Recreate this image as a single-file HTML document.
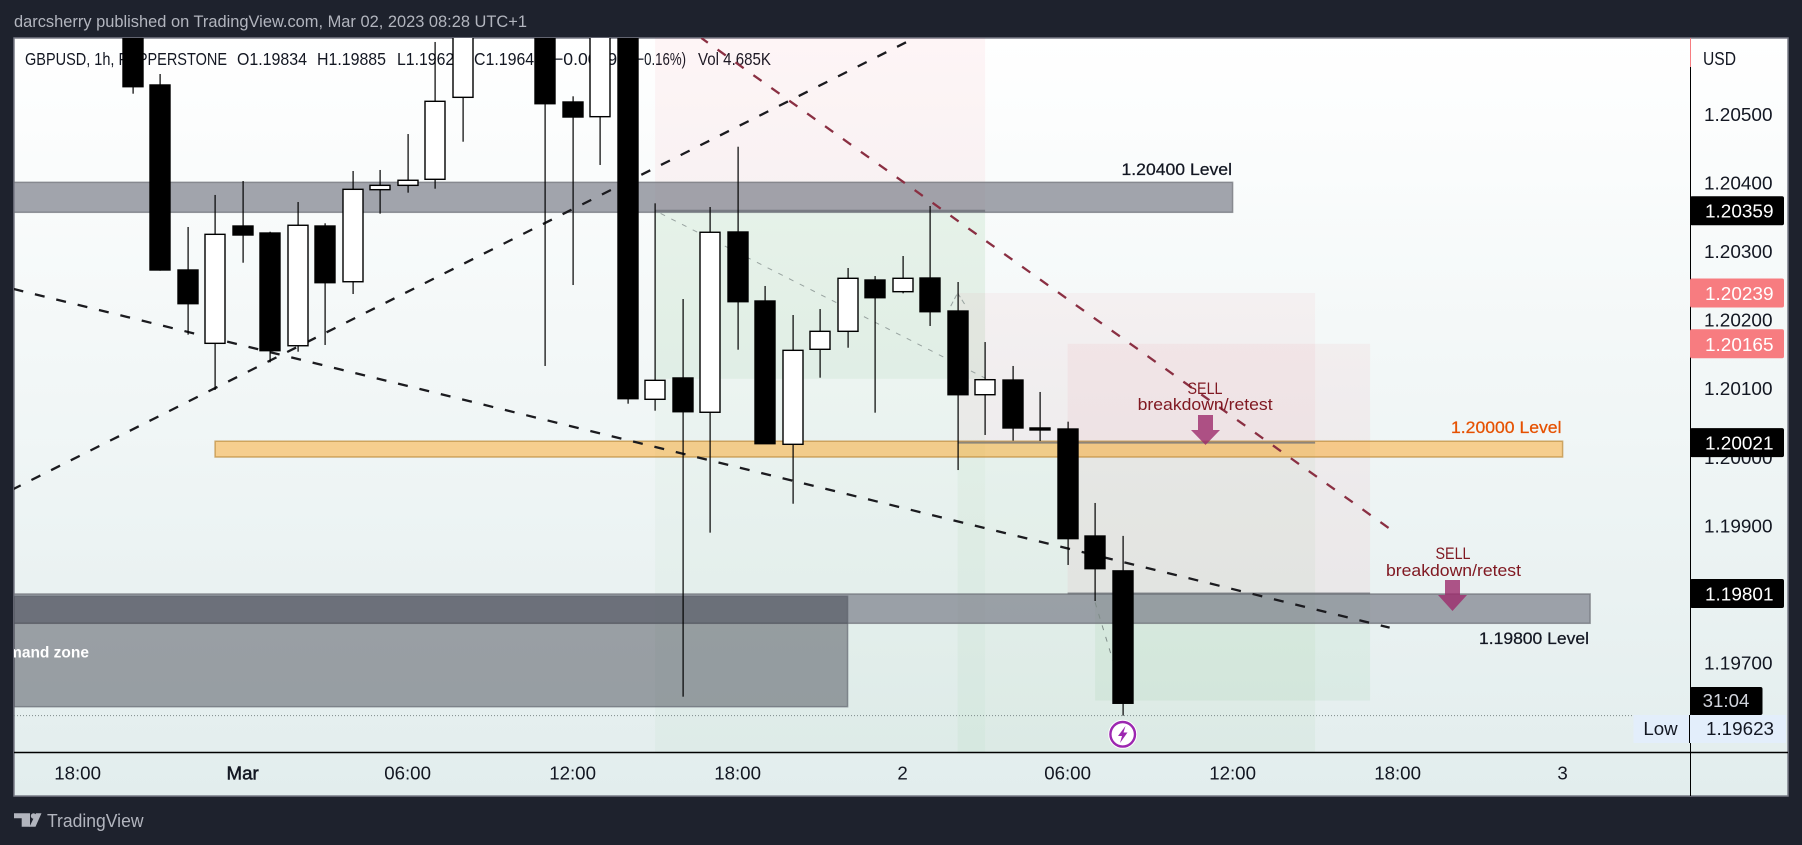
<!DOCTYPE html>
<html lang="en">
<head>
<meta charset="utf-8">
<title>GBPUSD 1h chart</title>
<style>
html,body{margin:0;padding:0;background:#1e222d;width:1802px;height:845px;overflow:hidden}
svg{display:block;font-family:"Liberation Sans",sans-serif}
</style>
</head>
<body>
<svg id="chart" width="1802" height="845" viewBox="0 0 1802 845" xmlns="http://www.w3.org/2000/svg">
  <defs>
    <linearGradient id="bgGrad" x1="0" y1="0" x2="0" y2="1">
      <stop offset="0" stop-color="#ffffff"/>
      <stop offset="1" stop-color="#e2eded"/>
    </linearGradient>
    <clipPath id="plotClip"><rect x="14" y="38" width="1676" height="714"/></clipPath>
  </defs>
  <rect x="0" y="0" width="1802" height="845" fill="#1e222d"/>
  <text x="14" y="27" font-size="17" fill="#b2b5be" textLength="513" lengthAdjust="spacingAndGlyphs">darcsherry published on TradingView.com, Mar 02, 2023 08:28 UTC+1</text>
  <rect x="14" y="38" width="1774" height="758" fill="url(#bgGrad)" stroke="#787b86" stroke-width="1.5"/>
  <g font-size="17.5" fill="#131722">
    <text x="25" y="65" textLength="202" lengthAdjust="spacingAndGlyphs">GBPUSD, 1h, PEPPERSTONE</text>
    <text x="237" y="65" textLength="70" lengthAdjust="spacingAndGlyphs">O1.19834</text>
    <text x="317" y="65" textLength="69" lengthAdjust="spacingAndGlyphs">H1.19885</text>
    <text x="397" y="65" textLength="66" lengthAdjust="spacingAndGlyphs">L1.19623</text>
    <text x="474" y="65" textLength="69" lengthAdjust="spacingAndGlyphs">C1.19641</text>
    <text x="553" y="65" textLength="74" lengthAdjust="spacingAndGlyphs">−0.00193</text>
    <text x="632" y="65" textLength="54" lengthAdjust="spacingAndGlyphs">(−0.16%)</text>
    <text x="698" y="65" textLength="73" lengthAdjust="spacingAndGlyphs">Vol 4.685K</text>
  </g>
  <g id="zones" clip-path="url(#plotClip)"></g>
  <line id="lowLine" x1="14" x2="1634" stroke="#7d8a8a" stroke-width="1" stroke-dasharray="1 2"/>
  <g id="lines" clip-path="url(#plotClip)"></g>
  <g id="candles" clip-path="url(#plotClip)"></g>
  <g>
    <text x="1121.5" y="175" font-size="17" stroke="#131722" stroke-width=".25" fill="#131722" textLength="110.5" lengthAdjust="spacingAndGlyphs">1.20400 Level</text>
    <text x="1451" y="433" font-size="17" stroke="#e65100" stroke-width=".25" fill="#e65100" textLength="110.5" lengthAdjust="spacingAndGlyphs">1.20000 Level</text>
    <text x="1479" y="644" font-size="17" stroke="#131722" stroke-width=".25" fill="#131722" textLength="110" lengthAdjust="spacingAndGlyphs">1.19800 Level</text>
    <text x="89" y="657.5" font-size="15.5" font-weight="bold" fill="#ffffff" text-anchor="end" clip-path="url(#plotClip)">demand zone</text>
    <text x="1205" y="394" font-size="17" fill="#801922" text-anchor="middle" textLength="35" lengthAdjust="spacingAndGlyphs">SELL</text>
    <text x="1137.6" y="410" font-size="17" fill="#801922" textLength="135" lengthAdjust="spacingAndGlyphs">breakdown/retest</text>
    <polygon points="1198,415 1213,415 1213,430 1220,430 1205.5,445 1191,430 1198,430" fill="#9c2a6b" fill-opacity=".8"/>
    <text x="1453" y="559" font-size="17" fill="#801922" text-anchor="middle" textLength="35" lengthAdjust="spacingAndGlyphs">SELL</text>
    <text x="1386" y="576" font-size="17" fill="#801922" textLength="135" lengthAdjust="spacingAndGlyphs">breakdown/retest</text>
    <polygon points="1445,580 1460,580 1460,595 1467,595 1452.5,611 1438,595 1445,595" fill="#9c2a6b" fill-opacity=".8"/>
    <g>
      <circle cx="1122.7" cy="734.3" r="14.5" fill="#ffffff"/>
      <circle cx="1122.7" cy="734.3" r="12.3" fill="#ffffff" stroke="#9c27b0" stroke-width="2.4"/>
      <polygon points="1125.5,726 1118,736 1122,736 1120,743 1127.5,732.5 1123.5,732.5" fill="#9c27b0"/>
    </g>
  </g>
  <g>
    <line x1="14" y1="752.5" x2="1788" y2="752.5" stroke="#000" stroke-width="1.5"/>
    <line x1="1690.5" y1="67" x2="1690.5" y2="796" stroke="#000" stroke-width="1"/>
    <line x1="1690.5" y1="38" x2="1690.5" y2="67" stroke="#f77c80" stroke-width="1"/>
    <text x="1703" y="65" font-size="18" fill="#131722" textLength="33" lengthAdjust="spacingAndGlyphs">USD</text>
  </g>
  <g id="yTicks" font-size="18.7" fill="#131722"></g>
  <g id="xTicks" font-size="18.7" fill="#131722" text-anchor="middle"></g>
  <g id="priceTags" font-size="18.7"></g>
  <g>
    <rect x="1690" y="687" width="72.5" height="28" rx="2" fill="#000"/>
    <text x="1726" y="707" font-size="18.7" fill="#d1d4dc" text-anchor="middle">31:04</text>
  </g>
  <g>
    <rect x="1633.5" y="715" width="152.5" height="28" fill="#e3eefb"/>
    <line x1="1689.5" y1="715" x2="1689.5" y2="743" stroke="#000"/>
    <text x="1660.5" y="735" font-size="18.7" fill="#131722" text-anchor="middle">Low</text>
    <text x="1706" y="735" font-size="18.7" fill="#131722" textLength="68" lengthAdjust="spacingAndGlyphs">1.19623</text>
  </g>
  <g fill="#b2b5be">
    <polygon points="14,813.3 30,813.3 30,826.8 21.7,826.8 21.7,818.3 14,818.3"/>
    <circle cx="33.5" cy="816" r="2.7"/>
    <polygon points="36,813.3 41.5,813.3 35.5,826.8 29.5,826.8"/>
    <text x="47" y="827" font-size="18.5" textLength="96.5" lengthAdjust="spacingAndGlyphs">TradingView</text>
  </g>
</svg>
<script>
// ---- Candle data (hours since Mar 1 00:00) ----
const hours  = [-4,-3,-2,-1,0,1,2,3,4,5,6,7,8,9,10,11,12,13,14,15,16,17,18,19,20,21,22,23,24,25,26,27,28,29,30,31,32];
const opens  = [1.2066,1.205423,1.202726,1.201657,1.203367,1.203265,1.201622,1.203367,1.202555,1.203897,1.20396,1.204048,1.205243,1.2068,1.2072,1.2075,1.205175,1.204961,1.2068,1.200841,1.201152,1.200652,1.20328,1.202274,1.200185,1.20157,1.201832,1.20258,1.20241,1.202609,1.202128,1.200908,1.201122,1.200423,1.200408,1.198848,1.19834];
const highs  = [1.2068,1.205583,1.203353,1.20382,1.204023,1.203284,1.203717,1.203407,1.204169,1.204184,1.204708,1.20605,1.2069,1.2078,1.2079,1.2077,1.205258,1.2069,1.2069,1.203698,1.202303,1.203644,1.204523,1.202493,1.20207,1.202157,1.202755,1.202638,1.20293,1.203659,1.202551,1.201676,1.201327,1.200948,1.200515,1.19933,1.19885];
const lows   = [1.205296,1.202716,1.201783,1.200977,1.202832,1.20138,1.201535,1.201633,1.202376,1.203547,1.203853,1.203911,1.204596,1.2067,1.2069,1.201327,1.202507,1.204257,1.200777,1.200675,1.196506,1.198897,1.201564,1.200194,1.199319,1.201156,1.201593,1.200646,1.202386,1.20191,1.19981,1.200321,1.200238,1.200233,1.198426,1.197901,1.19623];
const closes = [1.205398,1.202726,1.202235,1.203246,1.203236,1.20155,1.203378,1.202541,1.203902,1.20396,1.204034,1.205185,1.2068,1.2072,1.2075,1.20515,1.204956,1.2068,1.20085,1.201118,1.20066,1.203276,1.202264,1.200194,1.201555,1.201832,1.202605,1.202322,1.202605,1.202118,1.200908,1.201127,1.200423,1.200394,1.19881,1.198372,1.19641];

// ---- Axis data ----
const priceTicks = [1.205,1.204,1.203,1.202,1.201,1.2,1.199,1.198,1.197];
const priceTickLabels = ['1.20500','1.20400','1.20300','1.20200','1.20100','1.20000','1.19900','1.19800','1.19700'];
const timeTickHours = [-6,0,6,12,18,24,30,36,42,48];
const timeTickLabels = ['18:00','Mar','06:00','12:00','18:00','2','06:00','12:00','18:00','3'];

// ---- Price tags ----
const tagPrices = [1.20359,1.20239,1.20165,1.20021,1.19801];
const tagLabels = ['1.20359','1.20239','1.20165','1.20021','1.19801'];
const tagKinds  = ['dark','stop','stop','dark','dark'];
const lowPrice = 1.19623;

// ---- Horizontal zones: [startHour, endHour, topPrice, bottomPrice] ----
const level12040 = [-12,36,1.204004,1.203567];
const level12000 = [-1,48,1.20023,1.2];
const level11980 = [-12,49,1.198003,1.197576];
const demandZone = [-12,22,1.19797,1.19636];

// ---- Position tools: [startHour, endHour, topPrice, bottomPrice] ----
const toolAStop = [15,27,1.2072,1.20359];
const toolATarget = [15,27,1.20359,1.1945];
const toolATargetInner = [15,27,1.20359,1.20114];
const toolBStop = [26,39,1.20239,1.20021];
const toolBTarget = [26,39,1.20021,1.1945];
const toolCStop = [30,41,1.20165,1.19801];
const toolCTarget = [31,41,1.19801,1.19645];

// ---- Trendlines: [hour1, price1, hour2, price2] ----
const risingLine = [-8.33,1.199534,24.44,1.206108];
const fallingLine = [-8.33,1.202449,41.71,1.197512];
const redLine = [16.68,1.206108,41.69,1.198961];
const tradePathA = [15.2,1.20355,27,1.20115];
const tradePathB1 = [25.75,1.2022,26,1.20239];
const tradePathB2 = [26,1.20239,26.3,1.2022];
const tradePathC = [31,1.19788,31.65,1.19703];

const xOf = h => 242.6 + 27.5 * h;
const yOf = p => 114 + (1.205 - p) * 68600;
const NS = 'http://www.w3.org/2000/svg';
function make(tag, parent, attrs, txt) {
  const el = document.createElementNS(NS, tag);
  for (const k in attrs) el.setAttribute(k, attrs[k]);
  if (txt !== undefined) el.textContent = txt;
  parent.appendChild(el);
  return el;
}
const zones = document.getElementById('zones');
const linesG = document.getElementById('lines');
const candlesG = document.getElementById('candles');
const yTicks = document.getElementById('yTicks');
const xTicks = document.getElementById('xTicks');
const tagsG = document.getElementById('priceTags');

function zoneRect(z, fill, stroke) {
  const attrs = {x: xOf(z[0]), y: yOf(z[2]), width: xOf(z[1]) - xOf(z[0]), height: yOf(z[3]) - yOf(z[2]), fill: fill};
  if (stroke) { attrs.stroke = stroke; attrs['stroke-width'] = 1.5; }
  return make('rect', zones, attrs);
}
function entryLine(z) {
  return make('line', zones, {x1: xOf(z[0]), x2: xOf(z[1]), y1: yOf(z[3]), y2: yOf(z[3]), stroke: '#6b6f76', 'stroke-width': 2, 'stroke-opacity': .75});
}
function trend(t, stroke, width, dash, offset) {
  return make('line', linesG, {x1: xOf(t[0]), y1: yOf(t[1]), x2: xOf(t[2]), y2: yOf(t[3]), stroke: stroke, 'stroke-width': width, 'stroke-dasharray': dash, 'stroke-dashoffset': offset || 0});
}

let el;
el = zoneRect(toolATarget, 'rgba(76,175,80,.035)');


el = zoneRect(toolATargetInner, 'rgba(76,175,80,.07)');


el = zoneRect(toolAStop, 'rgba(242,54,69,.05)');


el = zoneRect(toolBTarget, 'rgba(76,175,80,.05)');


el = zoneRect(toolBStop, 'rgba(242,54,69,.045)');


el = zoneRect(toolCTarget, 'rgba(76,175,80,.07)');


el = zoneRect(toolCStop, 'rgba(242,54,69,.05)');


el = zoneRect(level12040, 'rgba(120,123,134,.68)', 'rgba(110,113,120,.7)');


el = zoneRect(level12000, 'rgba(255,152,0,.42)', 'rgba(190,140,60,.7)');


el = zoneRect(level11980, 'rgba(120,123,134,.68)', 'rgba(110,113,120,.7)');


el = zoneRect(demandZone, 'rgba(42,46,57,.42)', 'rgba(90,95,105,.6)');


el = entryLine(toolAStop);


el = entryLine(toolBStop);


el = entryLine(toolCStop);



const lowLine = document.getElementById('lowLine');
lowLine.setAttribute('y1', yOf(lowPrice));
lowLine.setAttribute('y2', yOf(lowPrice));

el = trend(tradePathA, '#98a3a0', 1, '5 7');


el = trend(tradePathB1, '#98a3a0', 1, '5 3');


el = trend(tradePathB2, '#98a3a0', 1, '5 3');


el = trend(tradePathC, '#7f8c88', 1, '5 7');


el = trend(risingLine, '#1b1b1f', 2.3, '10 12', 2);


el = trend(fallingLine, '#1b1b1f', 2.3, '10 12', 0);


el = trend(redLine, '#8a2f42', 2.3, '10 12', 2);



hours.forEach((h, i) => {
  const cx = Math.round(xOf(h));
  const top = yOf(Math.max(opens[i], closes[i]));
  const bot = yOf(Math.min(opens[i], closes[i]));
  const up = closes[i] >= opens[i];
  const wick = make('rect', candlesG, {x: cx - .5, y: yOf(highs[i]), width: 1.2, height: yOf(lows[i]) - yOf(highs[i]), fill: '#000'});
  
  
  const body = make('rect', candlesG, {x: cx - 10, y: top, width: 20, height: Math.max(bot - top, 1.5), fill: up ? '#fff' : '#000', stroke: '#000', 'stroke-width': 1.4});
  
  
});

priceTicks.forEach((p, i) => {
  const t = make('text', yTicks, {x: 1704, y: yOf(p) + 6.8, textLength: 68.5, lengthAdjust: 'spacingAndGlyphs'}, priceTickLabels[i]);
  
  
});
timeTickHours.forEach((h, i) => {
  const isMajor = timeTickLabels[i] === 'Mar' || timeTickLabels[i] === '2' || timeTickLabels[i] === '3';
  const t = make('text', xTicks, {x: xOf(h), y: 779.5, stroke: timeTickLabels[i] === 'Mar' ? '#131722' : 'none', 'stroke-width': .5}, timeTickLabels[i]);
  
  
});
tagPrices.forEach((p, i) => {
  const dark = tagKinds[i] === 'dark';
  const r = make('rect', tagsG, {x: 1690, y: yOf(p) - 14.5, width: 94, height: 29, rx: 2, fill: dark ? '#000' : '#f77c80'});
  
  
  const t = make('text', tagsG, {x: 1705, y: yOf(p) + 7, fill: '#fff', textLength: 68.5, lengthAdjust: 'spacingAndGlyphs'}, tagLabels[i]);
  
  
});
</script>
</body>
</html>
